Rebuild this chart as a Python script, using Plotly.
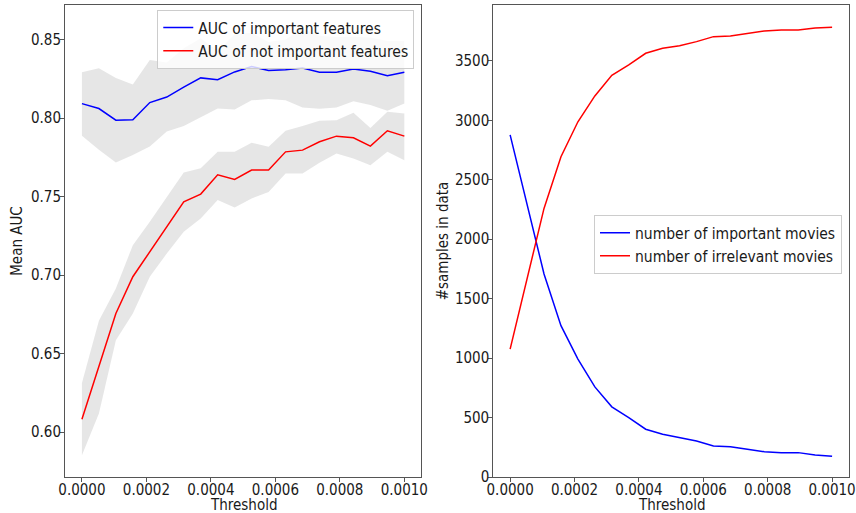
import plotly.graph_objects as go
from plotly.subplots import make_subplots

# ---------- data ----------
threshold = [i * 0.001 / 19 for i in range(20)]

auc_imp_mean = [0.8092, 0.8061, 0.7987, 0.7989, 0.8099, 0.8134, 0.8197, 0.8256, 0.8244, 0.8294,
                0.8328, 0.8303, 0.8307, 0.8319, 0.8292, 0.8292, 0.8313, 0.8298, 0.8269, 0.8292]
auc_imp_lower = [0.7887, 0.7798, 0.7718, 0.7765, 0.7819, 0.7914, 0.7950, 0.8004, 0.8061, 0.8055,
                 0.8113, 0.8122, 0.8113, 0.8067, 0.8059, 0.8067, 0.8108, 0.8083, 0.8047, 0.8093]
auc_imp_upper = [0.8292, 0.8317, 0.8256, 0.8214, 0.8370, 0.8354, 0.8444, 0.8508, 0.8427, 0.8533,
                 0.8543, 0.8484, 0.8501, 0.8571, 0.8525, 0.8517, 0.8518, 0.8513, 0.8491, 0.8491]

auc_not_mean = [0.6083, 0.6416, 0.6756, 0.6990, 0.7148, 0.7308, 0.7467, 0.7516, 0.7639, 0.7609,
                0.7669, 0.7670, 0.7785, 0.7796, 0.7849, 0.7885, 0.7875, 0.7822, 0.7919, 0.7885]
auc_not_lower = [0.5853, 0.6119, 0.6586, 0.6756, 0.6990, 0.7138, 0.7276, 0.7361, 0.7478, 0.7431,
                 0.7488, 0.7530, 0.7647, 0.7647, 0.7715, 0.7775, 0.7743, 0.7700, 0.7785, 0.7732]
auc_not_upper = [0.6314, 0.6709, 0.6915, 0.7191, 0.7340, 0.7499, 0.7654, 0.7680, 0.7785, 0.7785,
                 0.7843, 0.7817, 0.7919, 0.7949, 0.7983, 0.7987, 0.8034, 0.7937, 0.8040, 0.8030]

n_important = [2878, 2290, 1708, 1273, 992, 758, 590, 500, 402, 360,
               331, 303, 261, 255, 233, 213, 205, 205, 185, 174]
n_irrelevant = [1076, 1670, 2259, 2694, 2988, 3205, 3379, 3466, 3564, 3606,
                3628, 3662, 3704, 3710, 3732, 3752, 3760, 3760, 3777, 3782]

x_ticks = [0.0, 0.0002, 0.0004, 0.0006, 0.0008, 0.0010]
auc_ticks = [0.60, 0.65, 0.70, 0.75, 0.80, 0.85]
n_ticks = [0, 500, 1000, 1500, 2000, 2500, 3000, 3500]

# ---------- figure ----------
FONT = "DejaVu Sans Condensed, DejaVu Sans"
FS = 15
LFS = 15.5
TXT = "#1a1a1a"
SPINE = "#555555"
BAND = "rgba(128,128,128,0.2)"

fig = make_subplots(rows=1, cols=2)

# bands (left)
fig.add_trace(go.Scatter(x=threshold, y=auc_imp_lower, mode="lines", line=dict(width=0),
                         showlegend=False, hoverinfo="skip"), row=1, col=1)
fig.add_trace(go.Scatter(x=threshold, y=auc_imp_upper, mode="lines", line=dict(width=0),
                         fill="tonexty", fillcolor=BAND, showlegend=False, hoverinfo="skip"), row=1, col=1)
fig.add_trace(go.Scatter(x=threshold, y=auc_not_lower, mode="lines", line=dict(width=0),
                         showlegend=False, hoverinfo="skip"), row=1, col=1)
fig.add_trace(go.Scatter(x=threshold, y=auc_not_upper, mode="lines", line=dict(width=0),
                         fill="tonexty", fillcolor=BAND, showlegend=False, hoverinfo="skip"), row=1, col=1)
# lines (left)
fig.add_trace(go.Scatter(x=threshold, y=auc_imp_mean, mode="lines", name="AUC of important features",
                         line=dict(color="#0000ff", width=1.5), legend="legend"), row=1, col=1)
fig.add_trace(go.Scatter(x=threshold, y=auc_not_mean, mode="lines", name="AUC of not important features",
                         line=dict(color="#ff0000", width=1.5), legend="legend"), row=1, col=1)
# lines (right)
fig.add_trace(go.Scatter(x=threshold, y=n_important, mode="lines", name="number of important movies",
                         line=dict(color="#0000ff", width=1.5), legend="legend2"), row=1, col=2)
fig.add_trace(go.Scatter(x=threshold, y=n_irrelevant, mode="lines", name="number of irrelevant movies",
                         line=dict(color="#ff0000", width=1.5), legend="legend2"), row=1, col=2)

W, H = 856, 513
ML, MR, MT, MB = 64.5, 7, 5, 36.3
PW, PH = W - ML - MR, H - MT - MB


def px_x(p):
    return (p - ML) / PW


def px_y(p):
    return 1 - (p - MT) / PH


axis_common = dict(showline=True, linecolor=SPINE, linewidth=1, mirror=True,
                   ticks="outside", ticklen=4, tickcolor=SPINE, tickwidth=1,
                   showgrid=False, zeroline=False, automargin=False,
                   tickfont=dict(family=FONT, size=FS, color=TXT),
                   title_font=dict(family=FONT, size=FS, color=TXT))

fig.update_xaxes(**axis_common)
fig.update_yaxes(**axis_common)

fig.update_layout(
    width=W, height=H,
    margin=dict(l=ML, r=MR, t=MT, b=MB, autoexpand=False),
    paper_bgcolor="white", plot_bgcolor="white",
    font=dict(family=FONT, size=FS, color=TXT),
    xaxis=dict(domain=[0, px_x(421)], range=[-0.0000525, 0.0010525],
               tickvals=x_ticks, tickformat=".4f", ticklabelstandoff=-5),
    xaxis2=dict(domain=[px_x(493), 1], range=[-0.0000525, 0.0010525],
                tickvals=x_ticks, tickformat=".4f", ticklabelstandoff=-5),
    yaxis=dict(domain=[0, 1], range=[0.5715, 0.872],
               tickvals=auc_ticks, tickformat=".2f", ticklabelstandoff=-4,
               title=dict(text="Mean AUC", standoff=4)),
    yaxis2=dict(domain=[0, 1], range=[0, 3970],
                tickvals=n_ticks, ticklabelstandoff=-4,
                title=dict(text="#samples in data", standoff=2)),
    legend=dict(x=px_x(414), y=px_y(10), xanchor="right", yanchor="top", traceorder="normal",
                bgcolor="rgba(255,255,255,0.8)", bordercolor="#cccccc", borderwidth=1,
                font=dict(family=FONT, size=LFS, color=TXT), tracegroupgap=0),
    legend2=dict(x=px_x(842), y=px_y(215), xanchor="right", yanchor="top", traceorder="normal",
                 bgcolor="rgba(255,255,255,0.8)", bordercolor="#cccccc", borderwidth=1,
                 font=dict(family=FONT, size=LFS, color=TXT), tracegroupgap=0),
)

# x-axis titles placed under each panel
for dom in (fig.layout.xaxis.domain, fig.layout.xaxis2.domain):
    fig.add_annotation(text="Threshold", xref="paper", yref="paper",
                       x=(dom[0] + dom[1]) / 2, y=px_y(504.5), xanchor="center", yanchor="middle",
                       showarrow=False, font=dict(family=FONT, size=FS, color=TXT))

fig.write_html("out.html", config={"displayModeBar": False},
               post_script="document.body.style.margin='0';")
